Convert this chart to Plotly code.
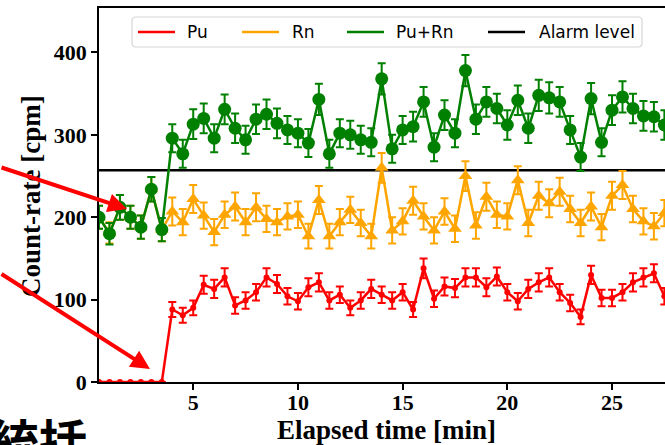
import plotly.graph_objects as go

# ---------------- data ----------------
time_min = [0.5, 1.0, 1.5, 2.0, 2.5, 3.0, 3.5, 4.0, 4.5, 5.0, 5.5, 6.0, 6.5, 7.0, 7.5,
            8.0, 8.5, 9.0, 9.5, 10.0, 10.5, 11.0, 11.5, 12.0, 12.5, 13.0, 13.5, 14.0,
            14.5, 15.0, 15.5, 16.0, 16.5, 17.0, 17.5, 18.0, 18.5, 19.0, 19.5, 20.0,
            20.5, 21.0, 21.5, 22.0, 22.5, 23.0, 23.5, 24.0, 24.5, 25.0, 25.5, 26.0,
            26.5, 27.0, 27.5]

pu = [0, 0, 0, 0, 0, 0, 0, 88, 81, 90, 118, 113, 127, 93, 99, 109, 127, 119, 104, 98,
      115, 121, 99, 106, 90, 99, 113, 106, 99, 109, 88, 138, 101, 116, 114, 127, 127,
      115, 128, 109, 98, 113, 121, 127, 109, 96, 79, 130, 102, 102, 109, 121, 127, 132, 104]
pu_err = [0, 0, 0, 0, 0, 0, 0, 9, 9, 9, 11, 11, 11, 10, 10, 10, 11, 11, 10, 10, 11, 11,
          10, 10, 9, 10, 11, 10, 10, 10, 9, 12, 10, 11, 11, 11, 11, 11, 11, 10, 10, 11,
          11, 11, 10, 10, 9, 11, 10, 10, 10, 11, 11, 11, 10]

rn = [200, 181, 212, 200, 188, 234, 185, 207, 194, 222, 202, 182, 203, 213, 194, 212,
      198, 194, 201, 203, 177, 221, 177, 194, 209, 193, 177, 260, 184, 195, 220, 201,
      184, 207, 186, 250, 190, 225, 203, 201, 245, 193, 226, 217, 231, 210, 193, 213,
      188, 226, 239, 210, 195, 189, 205]
rn_err = [14, 13, 15, 14, 14, 15, 14, 17, 16, 17, 16, 16, 16, 17, 16, 17, 16, 16, 16,
          16, 15, 17, 15, 16, 16, 16, 15, 18, 16, 16, 17, 16, 16, 16, 16, 18, 16, 17,
          16, 16, 17, 16, 17, 17, 17, 16, 16, 17, 16, 17, 17, 16, 16, 16, 16]

purn = [200, 180, 212, 200, 188, 234, 185, 296, 277, 313, 320, 296, 331, 308, 294, 319,
        325, 314, 306, 302, 290, 343, 277, 302, 300, 294, 291, 368, 283, 306, 310, 340,
        285, 324, 302, 378, 319, 340, 332, 312, 342, 308, 348, 345, 340, 306, 273, 344,
        291, 330, 346, 332, 323, 322, 312]
purn_err = [14, 13, 15, 14, 14, 15, 14, 17, 17, 18, 18, 17, 18, 18, 17, 18, 18, 18, 17,
            17, 17, 19, 17, 17, 17, 17, 17, 19, 17, 17, 18, 18, 17, 18, 17, 19, 18, 18,
            18, 18, 18, 18, 19, 19, 18, 17, 17, 19, 17, 18, 19, 18, 18, 18, 18]

alarm_level = 257

series_names = ["Pu", "Rn", "Pu+Rn", "Alarm level"]
series_colors = ["#ff0000", "#ffa500", "#008000", "#000000"]

x_ticks = [5, 10, 15, 20, 25]
y_ticks = [0, 100, 200, 300, 400]

# ---------------- layout geometry (pixels) ----------------
W, H = 665, 445
PL, PR, PT, PB = 99, 665, 8, 382


def px(xp):
    return (xp - PL) / (PR - PL)


def py(yp):
    return (PB - yp) / (PB - PT)


fig = go.Figure()

err_common = dict(type="data", visible=True, thickness=2, width=4)

fig.add_trace(go.Scatter(
    x=time_min, y=pu, mode="lines+markers", name=series_names[0],
    line=dict(color=series_colors[0], width=2.5),
    marker=dict(color=series_colors[0], size=6, symbol="circle"),
    error_y=dict(array=pu_err, color=series_colors[0], **err_common),
    showlegend=False))

fig.add_trace(go.Scatter(
    x=time_min, y=rn, mode="lines+markers", name=series_names[1],
    line=dict(color=series_colors[1], width=2.5),
    marker=dict(color=series_colors[1], size=12, symbol="triangle-up"),
    error_y=dict(array=rn_err, color=series_colors[1], **err_common),
    showlegend=False))

fig.add_trace(go.Scatter(
    x=time_min, y=purn, mode="lines+markers", name=series_names[2],
    line=dict(color=series_colors[2], width=2.5),
    marker=dict(color=series_colors[2], size=13, symbol="circle"),
    error_y=dict(array=purn_err, color=series_colors[2], **err_common),
    showlegend=False))

shapes = []
# alarm level line
shapes.append(dict(type="line", xref="paper", yref="y", x0=0, x1=1,
                   y0=alarm_level, y1=alarm_level, layer="below",
                   line=dict(color=series_colors[3], width=2.5)))

# legend box (rounded rectangle)
bx0, bx1, by0, by1, rr = 132, 642, 17, 47, 4
path = (f"M {px(bx0 + rr)} {py(by0)} L {px(bx1 - rr)} {py(by0)} "
        f"Q {px(bx1)} {py(by0)} {px(bx1)} {py(by0 + rr)} "
        f"L {px(bx1)} {py(by1 - rr)} Q {px(bx1)} {py(by1)} {px(bx1 - rr)} {py(by1)} "
        f"L {px(bx0 + rr)} {py(by1)} Q {px(bx0)} {py(by1)} {px(bx0)} {py(by1 - rr)} "
        f"L {px(bx0)} {py(by0 + rr)} Q {px(bx0)} {py(by0)} {px(bx0 + rr)} {py(by0)} Z")
shapes.append(dict(type="path", xref="paper", yref="paper", path=path,
                   fillcolor="rgba(255,255,255,0.85)",
                   line=dict(color="#d6d6d6", width=1.2), layer="above"))

leg_line_x = [138, 242, 347, 488]
leg_text_x = [186, 291, 395, 538]
leg_y = 32
annotations = []
for name, col, lx, tx in zip(series_names, series_colors, leg_line_x, leg_text_x):
    shapes.append(dict(type="line", xref="paper", yref="paper",
                       x0=px(lx), x1=px(lx + 37), y0=py(leg_y), y1=py(leg_y),
                       line=dict(color=col, width=2.5), layer="above"))
    annotations.append(dict(xref="paper", yref="paper", x=px(tx), y=py(leg_y),
                            xanchor="left", yanchor="middle", showarrow=False,
                            text=name, borderpad=0,
                            font=dict(family="DejaVu Sans", size=17, color="black")))

# axis titles
annotations.append(dict(xref="paper", yref="paper", x=px(31), y=py(196),
                        text="Count-rate [cpm]", textangle=-90, showarrow=False,
                        xanchor="center", yanchor="middle",
                        font=dict(family="Liberation Serif", size=27, color="black",
                                  weight="bold")))
annotations.append(dict(xref="paper", yref="paper", x=px(386.5), y=py(430),
                        text="Elapsed time [min]", showarrow=False,
                        xanchor="center", yanchor="middle",
                        font=dict(family="Liberation Serif", size=27, color="black",
                                  weight="bold")))

# cropped slide text at bottom-left
annotations.append(dict(xref="paper", yref="paper", x=px(-10), y=py(403),
                        text="統括", showarrow=False, xanchor="left", yanchor="top",
                        borderpad=0,
                        font=dict(family="Noto Sans CJK JP", size=48, color="black",
                                  weight="bold")))

# red pointer arrows from the slide
for (tipx, tipy, tailx, taily) in [(127, 209, -10, 167), (150, 369, -10, 273)]:
    annotations.append(dict(xref="paper", yref="paper", x=px(tipx), y=py(tipy),
                            ax=tailx - tipx, ay=taily - tipy, axref="pixel", ayref="pixel",
                            text="", showarrow=True, arrowhead=2, arrowsize=0.95,
                            arrowwidth=4, arrowcolor="#ff0000", standoff=0))

fig.update_layout(
    width=W, height=H, autosize=False,
    margin=dict(l=PL, r=W - PR, t=PT, b=H - PB, pad=0),
    paper_bgcolor="white", plot_bgcolor="white",
    shapes=shapes, annotations=annotations, showlegend=False,
)

tick_font = dict(family="Liberation Serif", size=22, color="black", weight="bold")
fig.update_xaxes(range=[0.5, 27.53], tickvals=x_ticks, ticktext=[str(v) for v in x_ticks],
                 ticks="outside", ticklen=6, tickwidth=1.5, tickcolor="black",
                 ticklabelstandoff=-6,
                 showline=True, linecolor="black", linewidth=1.5, mirror=True,
                 showgrid=False, zeroline=False, tickfont=tick_font, automargin=False)
fig.update_yaxes(range=[0, 454], tickvals=y_ticks, ticktext=[str(v) for v in y_ticks],
                 ticks="outside", ticklen=6, tickwidth=1.5, tickcolor="black",
                 showline=True, linecolor="black", linewidth=1.5, mirror=False,
                 showgrid=False, zeroline=False, tickfont=tick_font, automargin=False)

fig.write_html("out.html", config={"displayModeBar": False})
